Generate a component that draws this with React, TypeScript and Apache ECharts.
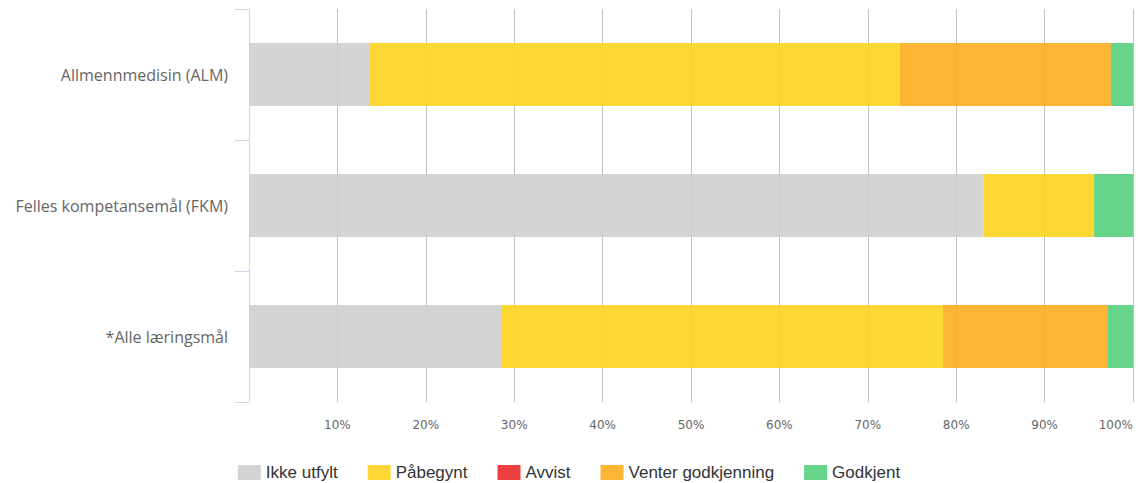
import React, { useEffect, useRef } from "react";
import * as echarts from "echarts";

const categories = ["Allmennmedisin (ALM)", "Felles kompetansemål (FKM)", "*Alle læringsmål"];
const ikkeUtfylt = [13.6, 83.1, 28.5];
const paabegynt = [60.0, 12.5, 50.0];
const avvist = [0, 0, 0];
const venter = [23.9, 0, 18.6];
const godkjent = [2.5, 4.4, 2.9];
const seriesNames = ["Ikke utfylt", "Påbegynt", "Avvist", "Venter godkjenning", "Godkjent"];
const seriesColors = ["#cfcfcf", "#fdd41e", "#ea2a2a", "#fcae1d", "#55cf7c"];
const tickLabels = ["", "10%", "20%", "30%", "40%", "50%", "60%", "70%", "80%", "90%", "100%"];

export default function App() {
  const ref = useRef<HTMLDivElement>(null);
  useEffect(() => {
    if (!ref.current) return;
    const chart = echarts.init(ref.current, undefined, { renderer: "svg" });
    const data = [ikkeUtfylt, paabegynt, avvist, venter, godkjent];
    chart.setOption({
      animation: false,
      grid: { left: 249, right: 5, top: 9, bottom: 81, containLabel: false, outerBoundsMode: "none" },
      legend: {
        left: "center",
        top: 464,
        padding: 0,
        icon: "rect",
        itemWidth: 23,
        itemHeight: 15,
        itemGap: 30,
        textStyle: { fontFamily: "Liberation Sans, Arial, sans-serif", fontSize: 17, color: "#333333" },
        data: seriesNames,
      },
      xAxis: {
        type: "value",
        min: 0,
        max: 100,
        interval: 10,
        axisLine: { show: false },
        axisTick: { show: false },
        splitLine: { show: true, lineStyle: { color: "#c2c2c2", width: 1 } },
        axisLabel: {
          margin: 17,
          color: "#666666",
          fontFamily: "DejaVu Sans, sans-serif",
          fontSize: 12,
          alignMaxLabel: "right",
          formatter: (v: number) => tickLabels[Math.round(v / 10)] ?? "",
        },
      },
      yAxis: {
        type: "category",
        inverse: true,
        data: categories,
        axisLine: { show: true, lineStyle: { color: "#ccd6eb" } },
        axisTick: { show: true, length: 14, lineStyle: { color: "#ccd6eb" } },
        axisLabel: {
          margin: 21,
          color: "#666666",
          fontFamily: "Open Sans, sans-serif",
          fontSize: 16,
        },
      },
      series: seriesNames.map((name, i) => ({
        name,
        type: "bar",
        stack: "total",
        barWidth: "48%",
        data: data[i],
        itemStyle: { color: seriesColors[i], opacity: 0.9 },
        emphasis: { disabled: true },
      })),
    });
    return () => chart.dispose();
  }, []);
  return <div ref={ref} style={{ width: 1138, height: 483, position: "absolute", left: 0, top: 0 }} />;
}
